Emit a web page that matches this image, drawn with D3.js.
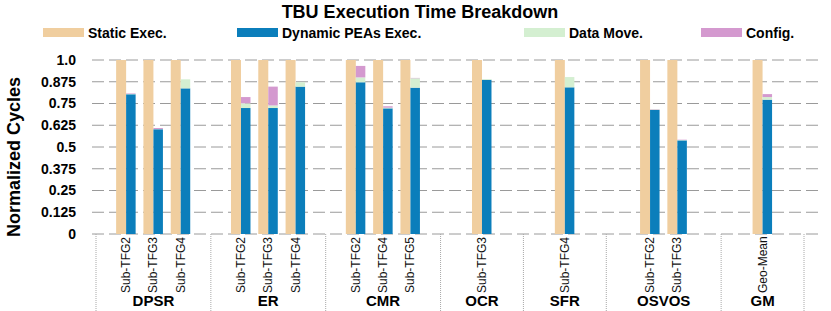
<!DOCTYPE html>
<html>
<head>
<meta charset="utf-8">
<script src="https://cdn.jsdelivr.net/npm/d3@7"></script>
<style>
  html, body { margin: 0; padding: 0; background: #fff; }
  svg { display: block; font-family: "Liberation Sans", Arial, Helvetica, sans-serif; }
</style>
</head>
<body>
<svg id="chart" width="831" height="311"></svg>
<script>
// ---------------- data ----------------
const groupNames = ["DPSR", "ER", "CMR", "OCR", "SFR", "OSVOS", "GM"];
const groupMembers = [
  ["Sub-TFG2", "Sub-TFG3", "Sub-TFG4"],
  ["Sub-TFG2", "Sub-TFG3", "Sub-TFG4"],
  ["Sub-TFG2", "Sub-TFG4", "Sub-TFG5"],
  ["Sub-TFG3"],
  ["Sub-TFG4"],
  ["Sub-TFG2", "Sub-TFG3"],
  ["Geo-Mean"]
];
// one value per bar, in the order of groupMembers flattened
const staticExec  = [1, 1, 1,   1, 1, 1,   1, 1, 1,   1,     1,     1, 1,       1];
const dynamicExec = [0.803, 0.602, 0.837,  0.724, 0.724, 0.847,  0.872, 0.722, 0.841,  0.886,  0.843,  0.713, 0.538,  0.772];
const dataMove    = [0.002, 0.001, 0.052,  0.027, 0.015, 0.025,  0.028, 0.004, 0.054,  0.004,  0.059,  0.003, 0.002,  0.015];
const config      = [0.003, 0.006, 0.000,  0.036, 0.108, 0.000,  0.066, 0.008, 0.002,  0.000,  0.000,  0.002, 0.002,  0.017];
const yTicks = [0, 0.125, 0.25, 0.375, 0.5, 0.625, 0.75, 0.875, 1.0];
const yTickLabels = ["0", "0.125", "0.25", "0.375", "0.5", "0.625", "0.75", "0.875", "1.0"];
const seriesNames = ["Static Exec.", "Dynamic PEAs Exec.", "Data Move.", "Config."];
const title = "TBU Execution Time Breakdown";
const yTitle = "Normalized Cycles";

// ---------------- styles / layout ----------------
const colors = ["#F0CE9F", "#0B7EBB", "#D4EFD1", "#D499CF"];
const legendX = [43, 237, 524, 701];
const svg = d3.select("#chart");
const font = "'Liberation Sans', Arial, Helvetica, sans-serif";

const y = d3.scaleLinear().domain([0, 1]).range([234, 60]);
const gridX0 = 92, gridX1 = 823;
const sepX0 = 96, sepX1 = 804;
const slotStep = 27.3, staticW = 10, dynW = 9.5;

// group widths: multi-bar groups wider than single-bar ones
const weights = groupMembers.map(m => m.length > 1 ? 1.386 : 1);
const cum = [0];
weights.forEach(w => cum.push(cum[cum.length - 1] + w));
const gx = d3.scaleLinear().domain([0, cum[cum.length - 1]]).range([sepX0, sepX1]);

// flatten bars
const bars = [];
let k = 0;
groupMembers.forEach((mem, gi) => {
  const gc = (gx(cum[gi]) + gx(cum[gi + 1])) / 2;
  mem.forEach((lab, j) => {
    const center = gc + (j - (mem.length - 1) / 2) * slotStep;
    bars.push({label: lab, group: gi, center,
      s: staticExec[k], d: dynamicExec[k], m: dataMove[k], c: config[k]});
    k++;
  });
});

// ---------------- gridlines ----------------
svg.append("g").selectAll("line").data(yTicks).join("line")
  .attr("x1", gridX0).attr("x2", gridX1)
  .attr("y1", d => y(d)).attr("y2", d => y(d))
  .attr("stroke", "#9a9a9a").attr("stroke-width", 1)
  .attr("stroke-dasharray", "12,5");

// group separators below axis
svg.append("g").selectAll("line").data(cum).join("line")
  .attr("x1", d => gx(d)).attr("x2", d => gx(d))
  .attr("y1", y(0)).attr("y2", 311)
  .attr("stroke", "#a8a8a8").attr("stroke-width", 1)
  .attr("stroke-dasharray", "1,1");

// ---------------- bars ----------------
const bg = svg.append("g");
bars.forEach(b => {
  bg.append("rect")
    .attr("x", b.center - staticW).attr("width", staticW)
    .attr("y", y(b.s)).attr("height", y(0) - y(b.s))
    .attr("fill", colors[0]);
  const stack = [b.d, b.m, b.c];
  let base = 0;
  stack.forEach((v, i) => {
    if (v <= 0) return;
    bg.append("rect")
      .attr("x", b.center).attr("width", dynW)
      .attr("y", y(base + v)).attr("height", y(base) - y(base + v))
      .attr("fill", colors[i + 1]);
    base += v;
  });
});

// ---------------- y axis labels ----------------
svg.append("g").selectAll("text").data(yTicks).join("text")
  .attr("x", 76).attr("y", d => y(d))
  .attr("dy", "0.35em")
  .attr("text-anchor", "end")
  .attr("font-family", font).attr("font-weight", "bold").attr("font-size", 14)
  .text((d, i) => yTickLabels[i]);

svg.append("text")
  .attr("transform", "translate(20,157) rotate(-90)")
  .attr("text-anchor", "middle")
  .attr("font-family", font).attr("font-weight", "bold").attr("font-size", 18)
  .text(yTitle);

// ---------------- x labels ----------------
svg.append("g").selectAll("text").data(bars).join("text")
  .attr("transform", d => `translate(${d.center + 4},293) rotate(-90)`)
  .attr("text-anchor", "start")
  .attr("font-family", font).attr("font-size", 12)
  .attr("fill", "#111")
  .text(d => d.label);

svg.append("g").selectAll("text").data(groupNames).join("text")
  .attr("x", (d, i) => (gx(cum[i]) + gx(cum[i + 1])) / 2)
  .attr("y", 306)
  .attr("text-anchor", "middle")
  .attr("font-family", font).attr("font-weight", "bold").attr("font-size", 15)
  .text(d => d);

// ---------------- title & legend ----------------
svg.append("text")
  .attr("x", 420).attr("y", 18)
  .attr("text-anchor", "middle")
  .attr("font-family", font).attr("font-weight", "bold").attr("font-size", 18)
  .text(title);

const lg = svg.append("g").selectAll("g").data(seriesNames).join("g")
  .attr("transform", (d, i) => `translate(${legendX[i]},0)`);
lg.append("rect").attr("x", 0).attr("y", 28).attr("width", 41).attr("height", 9)
  .attr("fill", (d, i) => colors[i]);
lg.append("text").attr("x", 45).attr("y", 37.5)
  .attr("font-family", font).attr("font-weight", "bold").attr("font-size", 14)
  .text(d => d);
</script>
</body>
</html>
